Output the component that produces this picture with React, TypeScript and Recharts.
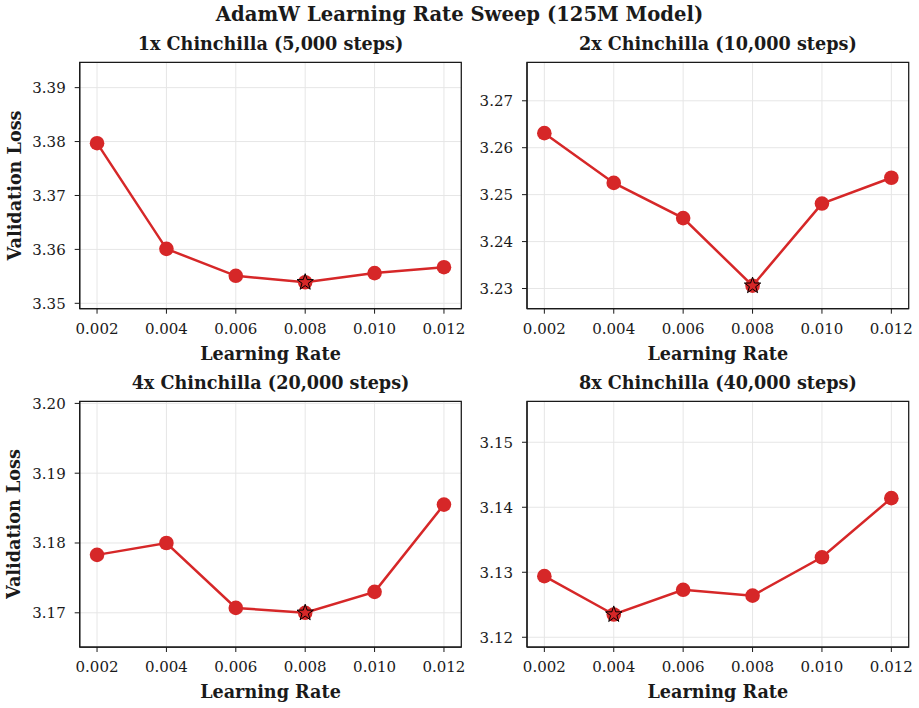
import React from "react";
import { CartesianGrid, ComposedChart, Line, ReferenceArea, XAxis, YAxis } from "recharts";

const LEARNING_RATES = [0.002, 0.004, 0.006, 0.008, 0.01, 0.012];

// validation loss per learning rate, one list per training budget
const LOSS_1X = [3.3797, 3.3601, 3.3551, 3.3539, 3.3556, 3.3567];
const LOSS_2X = [3.2631, 3.2525, 3.245, 3.2306, 3.2481, 3.2536];
const LOSS_4X = [3.1783, 3.18, 3.1707, 3.17, 3.173, 3.1855];
const LOSS_8X = [3.1294, 3.1235, 3.1273, 3.1264, 3.1323, 3.1414];

const TICKS_1X = [3.35, 3.36, 3.37, 3.38, 3.39];
const TICKS_2X = [3.23, 3.24, 3.25, 3.26, 3.27];
const TICKS_4X = [3.17, 3.18, 3.19, 3.2];
const TICKS_8X = [3.12, 3.13, 3.14, 3.15];

const X_DOMAIN: [number, number] = [0.0015, 0.0125];

const RED = "#d62728";
const INK = "#1a1a1a";
const FONT = '"DejaVu Serif", serif';

function starPath(cx: number, cy: number, r: number) {
  const inner = r * 0.382;
  const pts: string[] = [];
  for (let i = 0; i < 10; i++) {
    const rad = i % 2 === 0 ? r : inner;
    const a = -Math.PI / 2 + (i * Math.PI) / 5;
    pts.push(`${cx + rad * Math.cos(a)},${cy + rad * Math.sin(a)}`);
  }
  return `M${pts.join("L")}Z`;
}

function LossDot(props: any) {
  const { cx, cy, index, bestIndex } = props;
  if (cx == null || cy == null) return null;
  return (
    <g>
      <circle cx={cx} cy={cy} r={7.3} fill={RED} />
      {index === bestIndex && (
        <path d={starPath(cx, cy, 8.6)} fill={RED} stroke="#000" strokeWidth={1} />
      )}
    </g>
  );
}

function XTitle(props: any) {
  const { viewBox, text } = props;
  return (
    <text
      x={viewBox.x + viewBox.width / 2}
      y={viewBox.y + 44.6}
      textAnchor="middle"
      dominantBaseline="central"
      fontFamily={FONT}
      fontWeight="bold"
      fontSize={17.6}
      fill={INK}
    >
      {text}
    </text>
  );
}

function YTitle(props: any) {
  const { viewBox, text } = props;
  const x = viewBox.x + 14;
  const y = viewBox.y + viewBox.height / 2;
  return (
    <text
      x={x}
      y={y}
      transform={`rotate(-90 ${x} ${y})`}
      textAnchor="middle"
      dominantBaseline="central"
      fontFamily={FONT}
      fontWeight="bold"
      fontSize={17.6}
      fill={INK}
    >
      {text}
    </text>
  );
}

// panel heading, placed just above the frame box
function PanelTitle(props: any) {
  const { viewBox, text } = props;
  return (
    <text
      x={viewBox.x + viewBox.width / 2}
      y={viewBox.y - 12}
      textAnchor="middle"
      fontFamily={FONT}
      fontWeight="bold"
      fontSize={17.6}
      fill={INK}
    >
      {text}
    </text>
  );
}

type PanelProps = {
  title: string;
  losses: number[];
  yTicks: number[];
  yDomain: [number, number];
  showYLabel: boolean;
  left: number;
  top: number;
  width: number;
  height: number;
  marginTop: number;
  marginRight: number;
  yAxisWidth: number;
  xAxisHeight: number;
};

function Panel(p: PanelProps) {
  const data = LEARNING_RATES.map((lr, i) => ({ lr, loss: p.losses[i] }));
  const bestIndex = p.losses.indexOf(Math.min(...p.losses));
  const tick = { fill: INK, fontSize: 15, fontFamily: FONT };
  const axisLine = { stroke: INK, strokeWidth: 1.25 };
  return (
    <div style={{ position: "absolute", left: p.left, top: p.top }}>
      <ComposedChart
        width={p.width}
        height={p.height}
        data={data}
        margin={{ top: p.marginTop, right: p.marginRight, bottom: 0, left: 0 }}
      >
        <CartesianGrid stroke="#e6e6e6" strokeWidth={1} />
        <XAxis
          dataKey="lr"
          type="number"
          domain={X_DOMAIN}
          ticks={LEARNING_RATES}
          tickFormatter={(v: number) => v.toFixed(3)}
          height={p.xAxisHeight}
          tickSize={5}
          tickMargin={9.6}
          tick={tick}
          tickLine={{ stroke: INK }}
          axisLine={axisLine}
          label={<XTitle text="Learning Rate" />}
        />
        <YAxis
          type="number"
          domain={p.yDomain}
          ticks={p.yTicks}
          tickFormatter={(v: number) => v.toFixed(2)}
          width={p.yAxisWidth}
          tickSize={5}
          tickMargin={9}
          tick={tick}
          tickLine={{ stroke: INK }}
          axisLine={axisLine}
          label={p.showYLabel ? <YTitle text="Validation Loss" /> : undefined}
        />
        <Line
          dataKey="loss"
          stroke={RED}
          strokeWidth={2.5}
          isAnimationActive={false}
          activeDot={false}
          dot={(d: any) => <LossDot key={`dot-${d.index}`} {...d} bestIndex={bestIndex} />}
        />
        {/* closed frame around the plot area, with the panel heading on top */}
        <ReferenceArea
          x1={X_DOMAIN[0]}
          x2={X_DOMAIN[1]}
          y1={p.yDomain[0]}
          y2={p.yDomain[1]}
          fill="none"
          fillOpacity={0}
          stroke={INK}
          strokeWidth={1.25}
          label={<PanelTitle text={p.title} />}
        />
      </ComposedChart>
    </div>
  );
}

export default function App() {
  return (
    <div
      style={{
        position: "absolute",
        left: 0,
        top: 0,
        width: 919,
        height: 708,
        background: "#fff",
        fontFamily: FONT,
      }}
    >
      <div
        style={{
          position: "absolute",
          left: 0,
          top: 0,
          width: 919,
          lineHeight: "30px",
          textAlign: "center",
          fontWeight: "bold",
          fontSize: 19.6,
          color: INK,
        }}
      >
        AdamW Learning Rate Sweep (125M Model)
      </div>
      <Panel
        title="1x Chinchilla (5,000 steps)"
        losses={LOSS_1X}
        yTicks={TICKS_1X}
        yDomain={[3.349, 3.3947]}
        showYLabel
        left={0}
        top={30}
        width={470}
        height={340}
        marginTop={32.3}
        marginRight={8.7}
        yAxisWidth={79.7}
        xAxisHeight={61.3}
      />
      <Panel
        title="2x Chinchilla (10,000 steps)"
        losses={LOSS_2X}
        yTicks={TICKS_2X}
        yDomain={[3.2257, 3.2782]}
        showYLabel={false}
        left={470}
        top={30}
        width={449}
        height={340}
        marginTop={32.3}
        marginRight={10.3}
        yAxisWidth={57}
        xAxisHeight={61.3}
      />
      <Panel
        title="4x Chinchilla (20,000 steps)"
        losses={LOSS_4X}
        yTicks={TICKS_4X}
        yDomain={[3.1651, 3.2003]}
        showYLabel
        left={0}
        top={370}
        width={470}
        height={338}
        marginTop={31.3}
        marginRight={8.7}
        yAxisWidth={79.7}
        xAxisHeight={61}
      />
      <Panel
        title="8x Chinchilla (40,000 steps)"
        losses={LOSS_8X}
        yTicks={TICKS_8X}
        yDomain={[3.1185, 3.1563]}
        showYLabel={false}
        left={470}
        top={370}
        width={449}
        height={338}
        marginTop={31.3}
        marginRight={10.3}
        yAxisWidth={57}
        xAxisHeight={61}
      />
    </div>
  );
}
